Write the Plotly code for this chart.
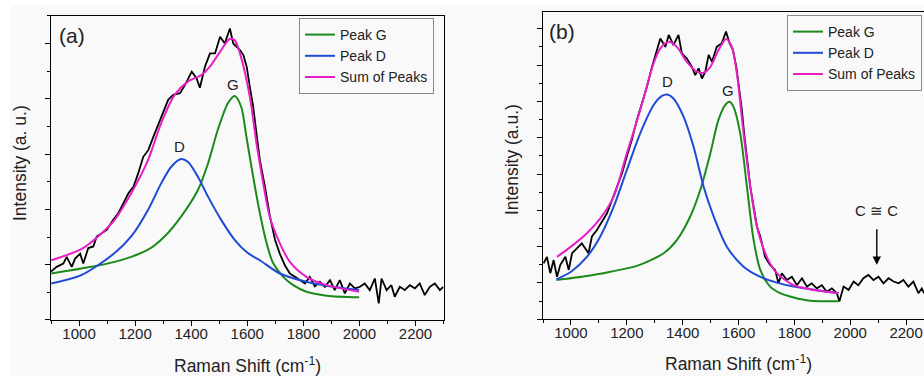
import plotly.graph_objects as go

# ---------------- Panel (a) data ----------------
a_exp_x = [899, 920, 944, 956, 974, 986, 1004, 1015, 1033, 1051, 1063, 1081, 1099, 1122, 1140, 1158,
           1176, 1194, 1211, 1229, 1247, 1265, 1283, 1301, 1318, 1336, 1360, 1378, 1402, 1419, 1431,
           1449, 1467, 1485, 1503, 1520, 1538, 1550, 1562, 1574, 1586, 1598, 1609, 1621, 1633, 1645,
           1663, 1681, 1699, 1716, 1734, 1752, 1770, 1788, 1806, 1823, 1841, 1859, 1877, 1895, 1912,
           1930, 1948, 1966, 1984, 2002, 2019, 2037, 2055, 2069, 2079, 2097, 2114, 2126, 2144, 2162,
           2180, 2198, 2215, 2233, 2251, 2269, 2287, 2299]
a_exp_y = [0.87, 0.96, 1.02, 1.14, 0.96, 1.11, 1.20, 1.02, 1.30, 1.33, 1.51, 1.57, 1.63, 1.81, 1.93, 2.11,
           2.29, 2.41, 2.65, 2.95, 3.07, 3.31, 3.55, 3.77, 3.98, 4.07, 4.10, 4.25, 4.49, 4.37, 4.20,
           4.58, 4.82, 4.82, 5.12, 5.00, 5.27, 5.00, 4.94, 4.88, 4.79, 4.58, 4.22, 3.86, 3.37, 2.89,
           2.41, 1.87, 1.45, 1.20, 0.99, 0.84, 0.78, 0.72, 0.66, 0.78, 0.61, 0.69, 0.60, 0.72, 0.54,
           0.72, 0.48, 0.66, 0.57, 0.60, 0.66, 0.54, 0.75, 0.30, 0.75, 0.54, 0.63, 0.42, 0.60, 0.54,
           0.63, 0.57, 0.66, 0.45, 0.60, 0.66, 0.54, 0.60]

a_g_x = [901, 1008, 1127, 1246, 1305, 1364, 1424, 1460, 1495, 1531, 1555, 1578, 1597, 1621, 1645,
         1669, 1692, 1728, 1764, 1811, 1883, 1999]
a_g_y = [0.84, 0.93, 1.05, 1.27, 1.51, 1.87, 2.35, 2.83, 3.44, 3.92, 4.05, 3.86, 3.31, 2.59, 1.93,
         1.39, 1.03, 0.78, 0.63, 0.51, 0.44, 0.41]

a_d_x = [901, 1008, 1127, 1186, 1246, 1293, 1329, 1364, 1388, 1424, 1460, 1507, 1555, 1602, 1645,
         1716, 1811, 1906, 1999]
a_d_y = [0.66, 0.81, 1.21, 1.51, 1.99, 2.47, 2.77, 2.91, 2.86, 2.59, 2.23, 1.81, 1.45, 1.21, 1.08,
         0.84, 0.69, 0.60, 0.54]

a_s_x = [901, 1008, 1068, 1127, 1186, 1246, 1293, 1341, 1388, 1436, 1471, 1507, 1537, 1555, 1574,
         1609, 1633, 1657, 1680, 1716, 1752, 1811, 1883, 1999]
a_s_y = [1.08, 1.28, 1.51, 1.81, 2.29, 2.89, 3.56, 4.07, 4.31, 4.43, 4.61, 4.88, 5.08, 5.06, 4.82,
         4.04, 3.19, 2.47, 1.87, 1.39, 1.05, 0.78, 0.63, 0.51]

# ---------------- Panel (b) data ----------------
b_exp_x = [902, 914, 926, 938, 950, 962, 980, 992, 1004, 1021, 1039, 1063, 1075, 1093, 1111, 1129,
           1147, 1165, 1183, 1200, 1218, 1236, 1254, 1272, 1290, 1308, 1320, 1338, 1350, 1367, 1385,
           1397, 1415, 1433, 1445, 1457, 1469, 1481, 1493, 1505, 1522, 1540, 1555, 1568, 1580, 1592,
           1604, 1612, 1620, 1630, 1642, 1654, 1666, 1678, 1695, 1713, 1731, 1743, 1755, 1773, 1791,
           1809, 1827, 1845, 1862, 1880, 1898, 1916, 1934, 1952, 1961, 1976, 1994, 2012, 2029, 2047,
           2065, 2083, 2101, 2119, 2137, 2155, 2173, 2190, 2208, 2226, 2244, 2256, 2264]
b_exp_y = [1.54, 1.72, 1.27, 1.63, 1.17, 1.50, 1.72, 1.36, 1.82, 1.95, 2.09, 1.82, 2.28, 2.46, 2.69, 2.92,
           3.28, 3.65, 4.02, 4.48, 4.94, 5.49, 5.94, 6.40, 6.95, 7.41, 7.73, 7.50, 7.83, 7.55, 7.83,
           7.32, 7.18, 6.95, 6.72, 6.91, 6.63, 6.82, 7.28, 7.09, 7.50, 7.60, 7.92, 7.60, 7.41, 6.95,
           6.31, 5.76, 5.12, 4.48, 3.65, 3.10, 2.55, 2.28, 1.72, 1.50, 1.36, 0.99, 1.27, 1.08, 1.17,
           0.94, 1.13, 0.90, 0.99, 0.85, 0.94, 0.76, 0.85, 0.72, 0.49, 0.90, 0.81, 1.04, 0.94, 1.13,
           1.22, 1.08, 1.17, 0.99, 1.13, 1.04, 0.99, 1.08, 0.90, 1.04, 0.72, 0.85, 0.72]

b_g_x = [948, 1057, 1141, 1236, 1332, 1379, 1427, 1463, 1499, 1528, 1552, 1568, 1582, 1606, 1630,
         1654, 1678, 1713, 1749, 1797, 1856, 1958]
b_g_y = [1.08, 1.19, 1.31, 1.47, 1.82, 2.18, 2.83, 3.56, 4.57, 5.49, 5.90, 5.99, 5.85, 5.12, 3.65,
         2.18, 1.36, 0.90, 0.72, 0.60, 0.51, 0.50]

b_d_x = [948, 1000, 1057, 1105, 1153, 1200, 1248, 1296, 1326, 1344, 1367, 1403, 1439, 1475, 1511,
         1558, 1618, 1678, 1737, 1797, 1856, 1958]
b_d_y = [1.10, 1.31, 1.72, 2.28, 3.10, 4.11, 5.12, 5.90, 6.15, 6.19, 6.08, 5.58, 4.75, 3.65, 2.83,
         2.00, 1.45, 1.17, 1.01, 0.90, 0.83, 0.72]

b_s_x = [950, 1000, 1057, 1105, 1153, 1200, 1248, 1296, 1320, 1350, 1379, 1415, 1451, 1475, 1499,
         1528, 1556, 1576, 1594, 1618, 1642, 1666, 1701, 1737, 1797, 1856, 1958]
b_s_y = [1.72, 2.00, 2.37, 2.78, 3.38, 4.57, 5.76, 7.05, 7.46, 7.64, 7.50, 7.09, 6.82, 6.79, 6.95,
         7.41, 7.72, 7.50, 6.77, 5.12, 3.65, 2.55, 1.72, 1.27, 0.94, 0.83, 0.72]

legend_names = ["Peak G", "Peak D", "Sum of Peaks"]

GREEN = "#1b8a1b"
BLUE = "#1f4ad6"
MAGENTA = "#e81ec6"
FONT = "Liberation Sans, Arial, sans-serif"

fig = go.Figure()

def add_panel(xa, ya, leg, ex, ey, gx, gy, dx, dy, sx, sy):
    fig.add_trace(go.Scatter(x=ex, y=ey, mode="lines", line=dict(color="black", width=1.8),
                             showlegend=False, xaxis=xa, yaxis=ya, hoverinfo="skip"))
    for nm, x, y, c in zip(legend_names, [gx, dx, sx], [gy, dy, sy], [GREEN, BLUE, MAGENTA]):
        fig.add_trace(go.Scatter(x=x, y=y, mode="lines", name=nm,
                                 line=dict(color=c, width=2, shape="spline", smoothing=0.8),
                                 xaxis=xa, yaxis=ya, legend=leg))

add_panel("x", "y", "legend", a_exp_x, a_exp_y, a_g_x, a_g_y, a_d_x, a_d_y, a_s_x, a_s_y)
add_panel("x2", "y2", "legend2", b_exp_x, b_exp_y, b_g_x, b_g_y, b_d_x, b_d_y, b_s_x, b_s_y)

xcommon = dict(dtick=200, tick0=0, ticks="outside", ticklen=5, tickwidth=1.3, tickcolor="black",
               showline=True, linecolor="black", linewidth=1.3, showgrid=False, zeroline=False,
               automargin=False, ticklabelstandoff=-5,
               tickfont=dict(size=15, color="#222", family=FONT),
               minor=dict(dtick=100, ticks="outside", ticklen=3, tickwidth=1.2, tickcolor="black"))
ycommon = dict(dtick=1, tick0=0, ticks="outside", ticklen=5, tickwidth=1.3, tickcolor="black",
               showline=True, linecolor="black", linewidth=1.3, showgrid=False, zeroline=False,
               showticklabels=False, automargin=False,
               minor=dict(dtick=0.5, ticks="outside", ticklen=2.5, tickwidth=1.2, tickcolor="black"))

legfont = dict(size=14, family=FONT, color="#222")
fig.update_layout(
    template="none",
    width=924, height=376,
    margin=dict(l=0, r=0, t=0, b=0, pad=0),
    paper_bgcolor="#f9f9f9", plot_bgcolor="#f9f9f9",
    font=dict(family=FONT, color="#222"),
    xaxis=dict(domain=[0.0552, 0.48], range=[900, 2300], anchor="y", mirror=True, **xcommon),
    yaxis=dict(domain=[0.149, 0.958], range=[0, 5.5], anchor="x", mirror=True, **ycommon),
    xaxis2=dict(domain=[0.5877, 1.0], range=[900, 2264], anchor="y2", mirror=True, **xcommon),
    yaxis2=dict(domain=[0.1508, 0.969], range=[0, 8.47], anchor="x2", mirror=False, **ycommon),
    legend=dict(x=0.3236, y=1 - 18 / 376, xanchor="left", yanchor="top", bordercolor="#8a8a8a",
                borderwidth=1, bgcolor="rgba(0,0,0,0)", font=legfont,
                itemwidth=30, tracegroupgap=0),
    legend2=dict(x=0.8517, y=1 - 15 / 376, xanchor="left", yanchor="top", bordercolor="#8a8a8a",
                 borderwidth=1, bgcolor="rgba(0,0,0,0)", font=legfont,
                 itemwidth=30, tracegroupgap=0),
    showlegend=True,
)

C = dict(xanchor="center", yanchor="middle", showarrow=False)
ann = []
# panel labels and peak labels
ann.append(dict(x=974, y=5.14, xref="x", yref="y", text="(a)", font=dict(size=21), **C))
ann.append(dict(x=1360, y=3.13, xref="x", yref="y", text="D", font=dict(size=15), **C))
ann.append(dict(x=1550, y=4.25, xref="x", yref="y", text="G", font=dict(size=15), **C))
ann.append(dict(x=968, y=7.92, xref="x2", yref="y2", text="(b)", font=dict(size=21), **C))
ann.append(dict(x=1345, y=6.55, xref="x2", yref="y2", text="D", font=dict(size=15), **C))
ann.append(dict(x=1563, y=6.3, xref="x2", yref="y2", text="G", font=dict(size=15), **C))
ann.append(dict(x=2095, y=2.99, xref="x2", yref="y2", text="C ≅ C", font=dict(size=15), **C))
ann.append(dict(x=2095, y=1.5, xref="x2", yref="y2", ax=2095, ay=2.52, axref="x2", ayref="y2",
                text="", showarrow=True, arrowhead=2, arrowsize=1.2, arrowwidth=1.4, arrowcolor="black"))
# axis titles
ann.append(dict(x=247 / 924, y=1 - 365 / 376, xref="paper", yref="paper",
                text="Raman Shift (cm<sup>-1</sup>)", font=dict(size=17.5), **C))
ann.append(dict(x=738 / 924, y=1 - 363 / 376, xref="paper", yref="paper",
                text="Raman Shift (cm<sup>-1</sup>)", font=dict(size=17.5), **C))
ann.append(dict(x=20 / 924, y=1 - 163 / 376, xref="paper", yref="paper", text="Intensity (a. u.)",
                textangle=-90, font=dict(size=17.5), **C))
ann.append(dict(x=512 / 924, y=1 - 160 / 376, xref="paper", yref="paper", text="Intensity (a.u.)",
                textangle=-90, font=dict(size=17.5), **C))
fig.update_layout(annotations=ann)

# white page strips around the figure
fig.add_shape(type="rect", xref="paper", yref="paper", x0=0, x1=1, y0=1 - 5 / 376, y1=1,
              fillcolor="white", line_width=0, layer="below")
fig.add_shape(type="rect", xref="paper", yref="paper", x0=0, x1=10 / 924, y0=0, y1=1,
              fillcolor="white", line_width=0, layer="below")

fig.write_html("out.html")
